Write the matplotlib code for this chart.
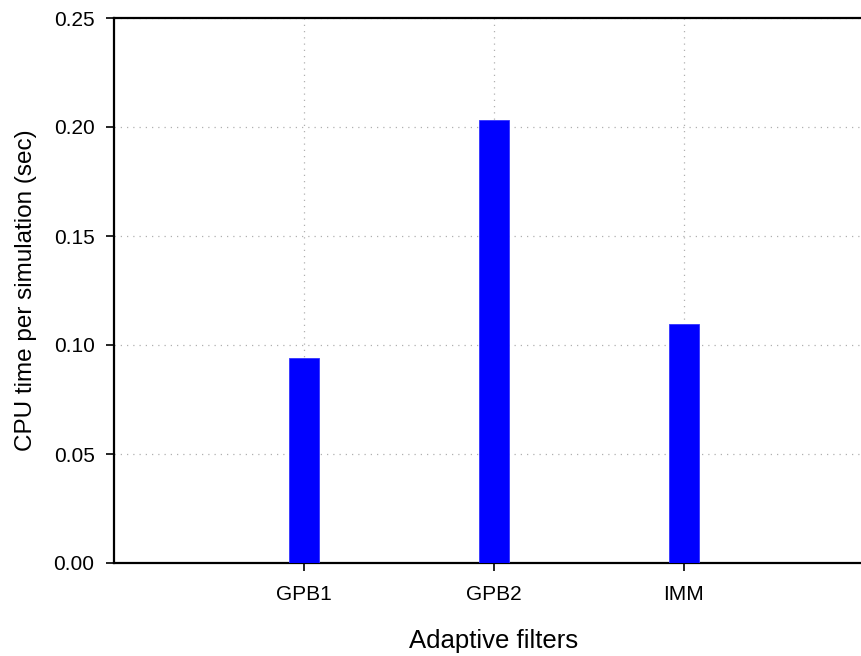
import matplotlib
matplotlib.use("Agg")
import matplotlib.pyplot as plt
import numpy as np

filters = ["GPB1", "GPB2", "IMM"]
cpu_time = [0.0939, 0.2031, 0.1095]
y_ticks = [0.00, 0.05, 0.10, 0.15, 0.20, 0.25]

plt.rcParams["font.family"] = ["Liberation Sans", "DejaVu Sans"]

W, H = 862, 656
fig = plt.figure(figsize=(W / 100, H / 100), dpi=100)
# axes runs past the right edge of the figure
left, right, top, bottom = 114, 874, 18, 563
ax = fig.add_axes([left / W, 1 - bottom / H, (right - left) / W, (bottom - top) / H])

x = np.arange(1, len(filters) + 1)
ax.bar(x, cpu_time, width=0.155, color="#0000ff", edgecolor="#3333ff",
       linewidth=0.6, zorder=3)

ax.set_xlim(0, 4)
ax.set_ylim(0, 0.25)
ax.set_xticks(x)
ax.set_xticklabels(filters)
ax.set_yticks(y_ticks)
ax.set_yticklabels([f"{v:.2f}" for v in y_ticks])

ax.grid(True, linestyle=(0, (1, 4)), color="#b0b0b0", linewidth=0.9, zorder=0)
for s in ["left", "bottom", "top"]:
    ax.spines[s].set_linewidth(1.6)
ax.spines["right"].set_visible(False)
ax.tick_params(axis="y", direction="out", length=6, width=1.2,
               labelsize=15, pad=8)
ax.tick_params(axis="x", direction="out", length=6, width=1.2,
               labelsize=15, pad=10)

ax.set_xlabel("Adaptive filters", fontsize=18.5, labelpad=18)
ax.set_ylabel("CPU time per simulation (sec)", fontsize=17.5, labelpad=12)

fig.savefig("out.png", dpi=100)
